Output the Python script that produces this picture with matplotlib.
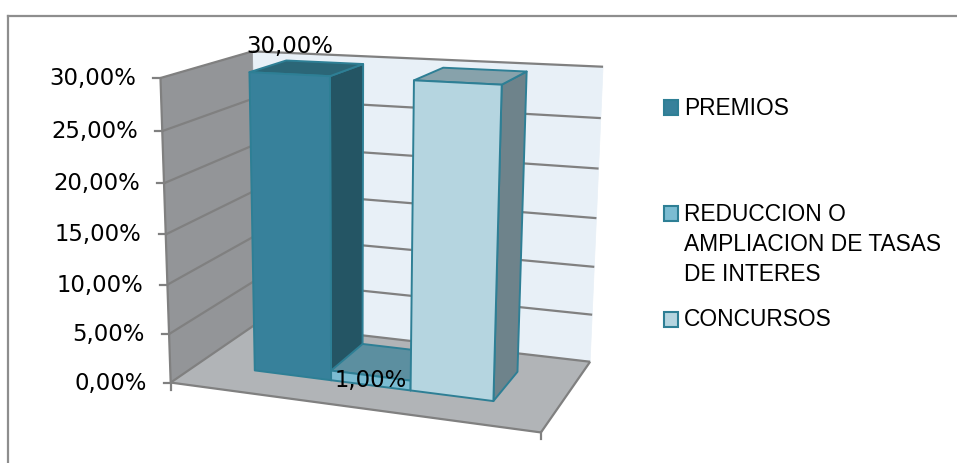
import numpy as np
import matplotlib
matplotlib.use("Agg")
import matplotlib.pyplot as plt
from matplotlib.patches import Polygon, Rectangle

WIDTH, HEIGHT = 957, 463

series_names = ["PREMIOS", "REDUCCION O\nAMPLIACION DE TASAS\nDE INTERES", "CONCURSOS"]
series_values = [30.0, 1.0, 30.0]
value_labels = ["30,00%", "1,00%", None]
tick_values = [0, 5, 10, 15, 20, 25, 30]
tick_labels = ["0,00%", "5,00%", "10,00%", "15,00%", "20,00%", "25,00%", "30,00%"]
Y_MAX = 30.0

front_colors = ["#37819b", "#7bbcd2", "#b5d5e0"]
side_colors = ["#245564", "#3f7a8c", "#6e838b"]
top_colors = ["#2b6677", "#5c8fa0", "#87a2ab"]
EDGE = "#2e7f95"
GRID = "#808080"

# camera calibration: box corners (x, y, depth) -> screen pixels
box_corners = np.array([
    [0, 0, 0], [1, 0, 0], [0, 0, 1], [1, 0, 1],
    [0, 1, 0], [0, 1, 1], [1, 1, 1],
], dtype=float)
screen_corners = np.array([
    [172, 383], [540, 433], [256, 323], [591, 361],
    [160, 77], [253, 52], [603, 67],
], dtype=float)


def fit_camera(world, screen):
    rows = []
    for (x, y, z), (u, v) in zip(world, screen):
        rows.append([x, y, z, 1, 0, 0, 0, 0, -u * x, -u * y, -u * z, -u])
        rows.append([0, 0, 0, 0, x, y, z, 1, -v * x, -v * y, -v * z, -v])
    return np.linalg.svd(np.array(rows))[2][-1].reshape(3, 4)


CAMERA = fit_camera(box_corners, screen_corners)


def project(x, value, z):
    p = CAMERA @ np.array([x, value / Y_MAX, z, 1.0])
    return p[0] / p[2], p[1] / p[2]


def face(points, color, edge=None, lw=1.4, zorder=1):
    xy = [project(*p) for p in points]
    ax.add_patch(Polygon(xy, closed=True, facecolor=color, zorder=zorder,
                         edgecolor=edge if edge else color, linewidth=lw, joinstyle="round"))


def line(a, b, lw=1.6):
    pa, pb = project(*a), project(*b)
    ax.plot([pa[0], pb[0]], [pa[1], pb[1]], color=GRID, lw=lw, solid_capstyle="butt", zorder=2)


fig = plt.figure(figsize=(WIDTH / 100, HEIGHT / 100), dpi=100)
ax = fig.add_axes([0, 0, 1, 1])
ax.set_xlim(0, WIDTH)
ax.set_ylim(HEIGHT, 0)
ax.axis("off")

# outer chart border
ax.plot([8, 8], [HEIGHT, 16], color="#8e8e8e", lw=1.6)
ax.plot([8, WIDTH], [16, 16], color="#8e8e8e", lw=1.6)

# walls and floor
face([(0, 0, 1), (1, 0, 1), (1, Y_MAX, 1), (0, Y_MAX, 1)], "#e8f0f7", lw=0.5)
face([(0, 0, 0), (0, 0, 1), (0, Y_MAX, 1), (0, Y_MAX, 0)], "#939598", lw=0.5)
face([(0, 0, 0), (1, 0, 0), (1, 0, 1), (0, 0, 1)], "#b1b4b7", lw=0.5)

for v in tick_values:
    line((0, v, 0), (0, v, 1))
    if v > 0:
        line((0, v, 1), (1, v, 1))
line((0, 0, 0), (0, Y_MAX, 0))
line((0, 0, 0), (1, 0, 0))
line((1, 0, 0), (1, 0, 1))
line((0, 0, 1), (1, 0, 1))

# axis ticks and labels
for v, lab in zip(tick_values, tick_labels):
    u0, v0 = project(0, v, 0)
    ax.plot([u0 - 7, u0], [v0, v0], color=GRID, lw=1.6)
    ax.text(u0 - 24, v0 + 0.5, lab, ha="right", va="center", fontsize=16.4,
            family="DejaVu Sans", color="black")
for x in [0, 1]:
    u0, v0 = project(x, 0, 0)
    ax.plot([u0, u0], [v0, v0 + 7], color=GRID, lw=1.6)

# bars, drawn left to right so each one covers the side of the previous
BAR_WIDTH = 2 / 9
X_START = 1 / 6 + 0.002
Z0, Z1 = 0.30, 0.73
for i, val in enumerate(series_values):
    x0 = X_START + i * BAR_WIDTH
    x1 = x0 + BAR_WIDTH
    order = 3 + i
    face([(x1, 0, Z0), (x1, 0, Z1), (x1, val, Z1), (x1, val, Z0)], side_colors[i], EDGE, zorder=order)
    face([(x0, val, Z0), (x1, val, Z0), (x1, val, Z1), (x0, val, Z1)], top_colors[i], EDGE, zorder=order)
    face([(x0, 0, Z0), (x1, 0, Z0), (x1, val, Z0), (x0, val, Z0)], front_colors[i], EDGE, zorder=order)

# value labels
ax.text(289.5, 46, value_labels[0], ha="center", va="center", fontsize=16.4,
        family="DejaVu Sans", zorder=10)
ax.text(371, 380, value_labels[1], ha="center", va="center", fontsize=16.4,
        family="DejaVu Sans", zorder=10)

# legend
legend_rows = [(100, 108.5), (206, 244.5), (312, 320)]
for (sw_y, text_y), name, c in zip(legend_rows, series_names, front_colors):
    ax.add_patch(Rectangle((663.5, sw_y), 14.5, 14.5, facecolor=c, edgecolor=EDGE, lw=1.5))
    ax.text(684, text_y, name, ha="left", va="center", fontsize=16.4,
            family="Liberation Sans", linespacing=1.4, color="black")

fig.savefig("out.png", dpi=100)
